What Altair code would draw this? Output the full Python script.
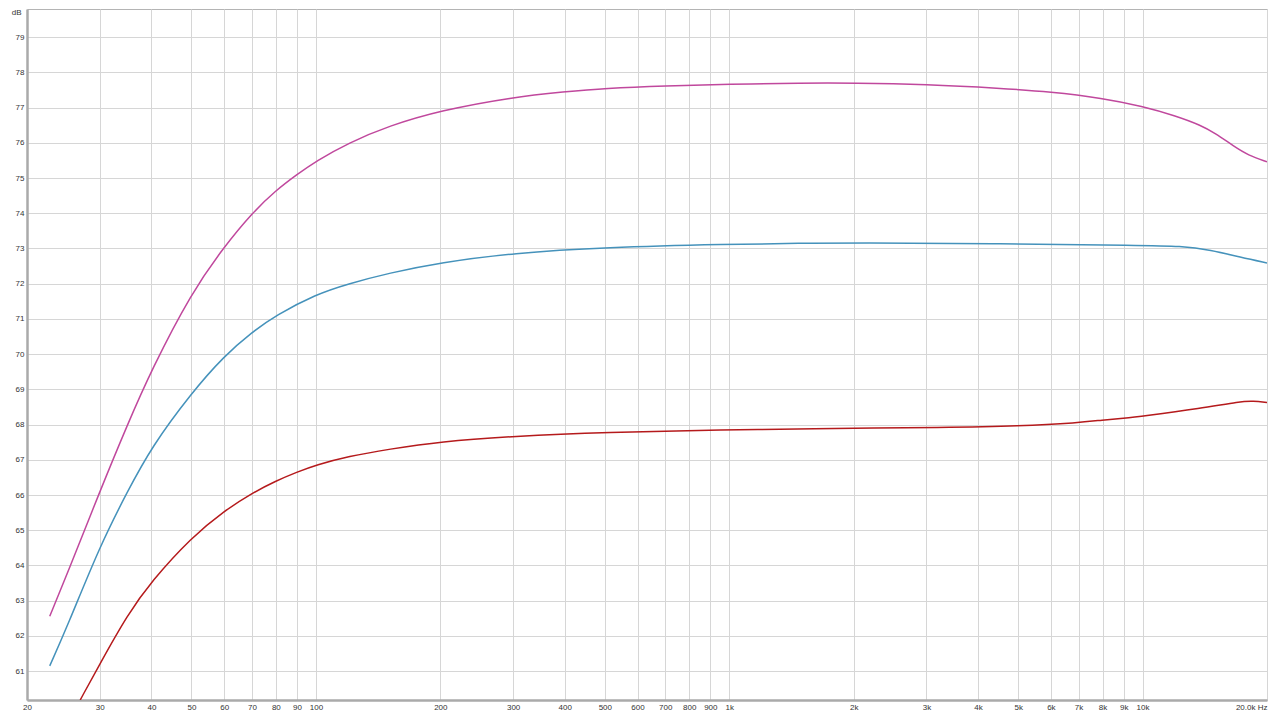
import altair as alt
import pandas as pd

# Frequencies (Hz) and levels (dB)
mag_f = [22.7, 25, 30, 35, 40, 50, 60, 70, 80, 90, 100, 120, 150, 200, 300, 400, 500, 700, 1000, 1500, 2000, 3000, 4530, 6000, 8000, 10000, 12000, 13836, 15000, 16634, 18000, 20000]
mag_v = [62.56, 63.75, 66.1, 68.0, 69.55, 71.75, 73.05, 74.0, 74.65, 75.1, 75.48, 76.0, 76.48, 76.92, 77.3, 77.45, 77.55, 77.62, 77.66, 77.70, 77.70, 77.66, 77.55, 77.45, 77.27, 77.04, 76.77, 76.5, 76.27, 75.9, 75.65, 75.46]

blu_f = [22.7, 25, 30, 35, 40, 50, 60, 70, 80, 100, 120, 150, 200, 300, 500, 1000, 1500, 2000, 4530, 10000, 12360, 14620, 17280, 20000]
blu_v = [61.15, 62.25, 64.55, 66.1, 67.36, 68.9, 69.95, 70.62, 71.1, 71.7, 72.0, 72.3, 72.6, 72.87, 73.03, 73.12, 73.15, 73.16, 73.14, 73.09, 73.07, 72.96, 72.75, 72.59]

red_f = [26.9, 30, 35, 40, 50, 60, 70, 80, 90, 100, 120, 150, 200, 300, 500, 1000, 1500, 3428, 5000, 7000, 8000, 9000, 10000, 13836, 17280, 18500, 20000]
red_v = [60.18, 61.2, 62.6, 63.55, 64.8, 65.55, 66.05, 66.4, 66.65, 66.85, 67.1, 67.3, 67.52, 67.67, 67.78, 67.85, 67.88, 67.92, 67.96, 68.05, 68.13, 68.18, 68.24, 68.46, 68.66, 68.67, 68.63]

series = ["A", "B", "C"]
colors = ["#c0489d", "#4592bb", "#b51a1c"]

x_ticks = [20, 30, 40, 50, 60, 70, 80, 90, 100, 200, 300, 400, 500, 600, 700, 800, 900,
           1000, 2000, 3000, 4000, 5000, 6000, 7000, 8000, 9000, 10000, 20000]
y_ticks = list(range(61, 80))

rows = []
for name, fs, vs in zip(series, [mag_f, blu_f, red_f], [mag_v, blu_v, red_v]):
    for f, v in zip(fs, vs):
        rows.append({"series": name, "freq": f, "db": v})
df = pd.DataFrame(rows)

label_expr = ("datum.value == 20000 ? '20.0k Hz' : "
              "(datum.value >= 1000 ? (datum.value/1000) + 'k' : datum.value + '')")

chart = alt.Chart(df).mark_line(interpolate="basis", strokeWidth=1.5, clip=True).encode(
    x=alt.X("freq:Q",
            scale=alt.Scale(type="log", domain=[20, 20000], nice=False),
            axis=alt.Axis(values=x_ticks, labelExpr=label_expr, title=None,
                          grid=True, gridColor="#d6d6d6", gridWidth=1,
                          ticks=False, labelPadding=3, labelFontSize=8,
                          labelColor="#333", labelFont="Liberation Sans",
                          labelFlush=False, labelOverlap=False,
                          labelAlign={"condition": {"test": "datum.value >= 20000", "value": "right"}, "value": "center"},
                          domainColor="#aaaaaa", domainWidth=2.5)),
    y=alt.Y("db:Q",
            scale=alt.Scale(domain=[60.18, 79.8], nice=False, zero=False),
            axis=alt.Axis(values=y_ticks, title="dB", titleAngle=0, titleX=-6, titleY=-1,
                          titleAlign="right", titleBaseline="top", titleFontSize=8,
                          titleFontWeight="normal", titleColor="#333", titleFont="Liberation Sans",
                          grid=True, gridColor="#d6d6d6", gridWidth=1,
                          ticks=False, labelPadding=3, labelFontSize=8,
                          labelColor="#333", labelFont="Liberation Sans",
                          domainColor="#aaaaaa", domainWidth=2.5)),
    color=alt.Color("series:N", scale=alt.Scale(domain=series, range=colors), legend=None),
).properties(
    width=1240, height=691,
    autosize=alt.AutoSizeParams(type="none"),
    padding={"left": 19, "top": 1, "right": 5, "bottom": 11},
).configure_view(stroke="#b4b4b4", strokeWidth=1)

chart.save("out.html", embed_options={"renderer": "svg", "actions": False})
